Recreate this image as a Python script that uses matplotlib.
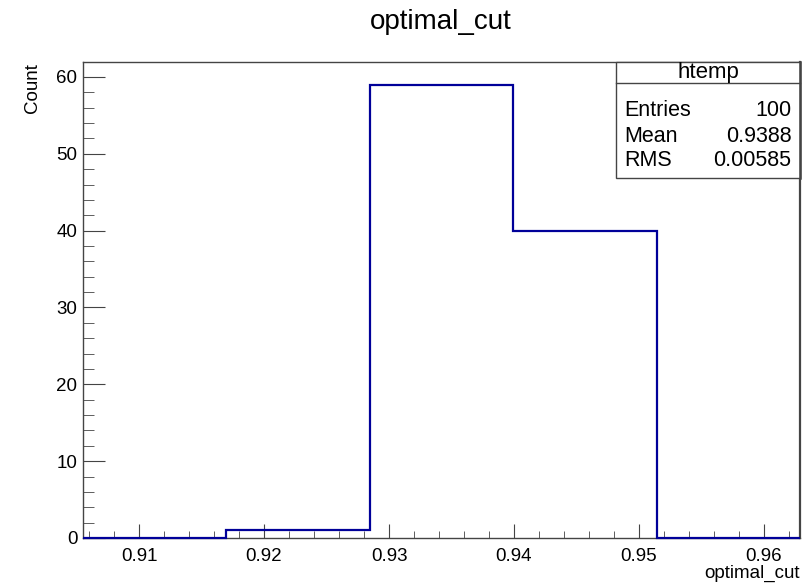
import numpy as np
import matplotlib
matplotlib.use("Agg")
import matplotlib.pyplot as plt
from matplotlib.ticker import MultipleLocator

plt.rcParams['font.family'] = ['Liberation Sans', 'DejaVu Sans']

# histogram data (5 bins)
bin_edges = [0.90552, 0.91699, 0.92846, 0.93994, 0.95141, 0.96288]
counts = [0, 1, 59, 40, 0]

stats_title = 'htemp'
stats_names = ['Entries', 'Mean', 'RMS']
stats_values = ['100', '0.9388', '0.00585']

fig = plt.figure(figsize=(8.12, 5.86), dpi=100)
ax = fig.add_axes([83 / 812, 48 / 586, 717 / 812, 476 / 586])

ax.stairs(counts, bin_edges, color='#000099', linewidth=1.6, baseline=0,
          clip_on=False, zorder=5)

ax.set_xlim(bin_edges[0], bin_edges[-1])
ax.set_ylim(0, max(counts) * 1.05)

ax.xaxis.set_major_locator(MultipleLocator(0.01))
ax.xaxis.set_minor_locator(MultipleLocator(0.002))
ax.yaxis.set_major_locator(MultipleLocator(10))
ax.yaxis.set_minor_locator(MultipleLocator(2))

frame_col = '#444444'
for s in ax.spines.values():
    s.set_color(frame_col)
    s.set_linewidth(1.0)
ax.spines['right'].set_linewidth(1.6)

ax.tick_params(axis='both', which='both', direction='in', color=frame_col,
               labelsize=13.5, top=False, right=False)
ax.tick_params(axis='x', which='major', length=10, pad=7)
ax.tick_params(axis='x', which='minor', length=5)
ax.tick_params(axis='y', which='major', length=16, pad=4)
ax.tick_params(axis='y', which='minor', length=8)

# titles, ROOT style placement
fig.text(441 / 812, 1 - 22 / 586, 'optimal_cut', fontsize=20, ha='center', va='center')
fig.text(800 / 812, 1 - 573 / 586, 'optimal_cut', fontsize=13.5, ha='right', va='center')
fig.text(33 / 812, 1 - 63 / 586, 'Count', fontsize=13.5, rotation=90, ha='center', va='top')

# stats box
bx0, bx1 = (616 - 83) / 717, 1.0
by0, by1 = (538 - 178) / 476, 1.0
hline = (538 - 83) / 476
box = plt.Rectangle((bx0, by0), bx1 - bx0, by1 - by0, transform=ax.transAxes,
                    facecolor='white', edgecolor=frame_col, linewidth=1.0,
                    clip_on=False, zorder=7)
ax.add_patch(box)
ax.plot([bx0, bx1], [hline, hline], transform=ax.transAxes, color=frame_col,
        linewidth=1.0, clip_on=False, zorder=8)
ax.plot([bx1, bx1], [by0, by1], transform=ax.transAxes, color=frame_col,
        linewidth=1.8, clip_on=False, zorder=8)
ax.text((bx0 + bx1) / 2, (hline + by1) / 2, stats_title, transform=ax.transAxes,
        fontsize=16, ha='center', va='center', zorder=9)
row_y = [110, 136, 160]
for name, val, yp in zip(stats_names, stats_values, row_y):
    ya = (538 - yp) / 476
    ax.text(bx0 + 0.012, ya, name, transform=ax.transAxes, fontsize=15.5,
            ha='left', va='center', zorder=9)
    ax.text(bx1 - 0.012, ya, val, transform=ax.transAxes, fontsize=15.5,
            ha='right', va='center', zorder=9)

fig.savefig('out.png', dpi=100)
